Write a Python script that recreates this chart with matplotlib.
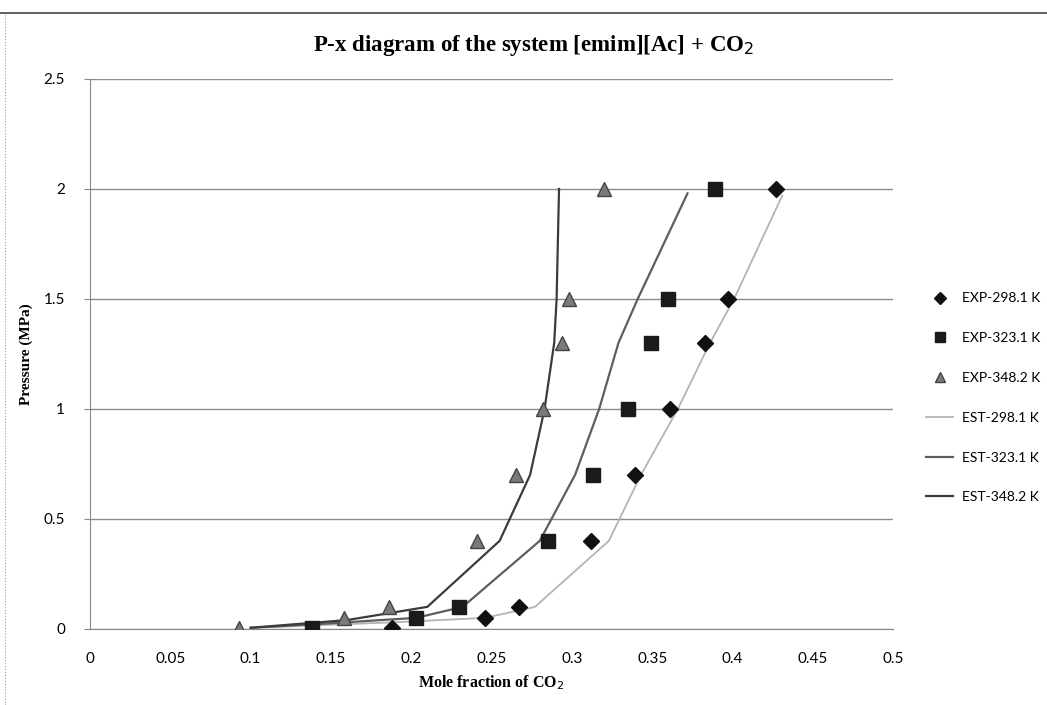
import numpy as np
import matplotlib.pyplot as plt
from matplotlib.lines import Line2D

# Experimental data (mole fraction CO2, pressure MPa)
x_exp_298 = [0.188, 0.246, 0.267, 0.312, 0.339, 0.361, 0.383, 0.397, 0.427]
p_exp_298 = [0.005, 0.05, 0.1, 0.4, 0.7, 1.0, 1.3, 1.5, 2.0]
x_exp_323 = [0.138, 0.203, 0.230, 0.285, 0.313, 0.335, 0.349, 0.360, 0.389]
p_exp_323 = [0.005, 0.05, 0.1, 0.4, 0.7, 1.0, 1.3, 1.5, 2.0]
x_exp_348 = [0.093, 0.158, 0.186, 0.241, 0.265, 0.282, 0.294, 0.298, 0.320]
p_exp_348 = [0.005, 0.05, 0.1, 0.4, 0.7, 1.0, 1.3, 1.5, 2.0]

# Estimated curves
x_est_298 = [0.100, 0.190, 0.246, 0.277, 0.323, 0.343, 0.366, 0.386, 0.401, 0.431]
p_est_298 = [0.005, 0.03, 0.05, 0.1, 0.4, 0.7, 1.0, 1.3, 1.5, 1.97]
x_est_323 = [0.100, 0.138, 0.203, 0.232, 0.280, 0.302, 0.317, 0.329, 0.341, 0.372]
p_est_323 = [0.005, 0.02, 0.05, 0.1, 0.4, 0.7, 1.0, 1.3, 1.5, 1.98]
x_est_348 = [0.100, 0.160, 0.210, 0.255, 0.274, 0.283, 0.289, 0.2905, 0.292]
p_est_348 = [0.005, 0.04, 0.1, 0.4, 0.7, 1.0, 1.3, 1.5, 2.0]

serif = ['Liberation Serif', 'DejaVu Serif']
sans = ['Lato', 'DejaVu Sans']

fig = plt.figure(figsize=(10.47, 7.05), dpi=100)
ax = fig.add_axes([0.086, 0.108, 0.767, 0.780])

ax.plot(x_est_298, p_est_298, color='#b4b4b4', lw=1.3, label='EST-298.1 K', zorder=2)
ax.plot(x_est_323, p_est_323, color='#5e5e5e', lw=1.6, label='EST-323.1 K', zorder=2)
ax.plot(x_est_348, p_est_348, color='#3c3c3c', lw=1.6, label='EST-348.2 K', zorder=2)

ax.plot(x_exp_298, p_exp_298, 'D', color='#111111', ms=8, ls='none', label='EXP-298.1 K', zorder=3)
ax.plot(x_exp_323, p_exp_323, 's', color='#1a1a1a', ms=10, ls='none', label='EXP-323.1 K', zorder=3)
ax.plot(x_exp_348, p_exp_348, '^', color='#7a7a7a', mec='#444444', ms=10, ls='none', label='EXP-348.2 K', zorder=3)

ax.set_xlim(0, 0.5)
ax.set_ylim(0, 2.5)
ax.set_xticks(np.arange(0, 0.51, 0.05))
ax.set_xticklabels(['0', '0.05', '0.1', '0.15', '0.2', '0.25', '0.3', '0.35', '0.4', '0.45', '0.5'])
ax.set_yticks(np.arange(0, 2.51, 0.5))
ax.set_yticklabels(['0', '0.5', '1', '1.5', '2', '2.5'])
for lab in ax.get_xticklabels() + ax.get_yticklabels():
    lab.set_family(sans)
    lab.set_fontsize(11)
ax.tick_params(axis='x', length=0, pad=17)
ax.tick_params(axis='y', length=4, color='#888888', pad=14)

ax.grid(axis='y', color='#8c8c8c', lw=1.0)
ax.set_axisbelow(True)
for s in ['top', 'right']:
    ax.spines[s].set_visible(False)
ax.spines['left'].set_color('#888888')
ax.spines['bottom'].set_color('#888888')

ax.set_title('P-x diagram of the system [emim][Ac] + CO$_2$', family=serif,
             fontweight='bold', fontsize=16.5, pad=20, x=0.552)
ax.set_xlabel('Mole fraction of CO$_2$', family=serif, fontweight='bold', fontsize=11.5, labelpad=5)
ax.set_ylabel('Pressure (MPa)', family=serif, fontweight='bold', fontsize=11, labelpad=8)

handles, labels = ax.get_legend_handles_labels()
order = [3, 4, 5, 0, 1, 2]
leg = ax.legend([handles[i] for i in order], [labels[i] for i in order],
                loc='center left', bbox_to_anchor=(1.025, 0.42), frameon=False,
                prop={'family': sans, 'size': 10}, labelspacing=2.0,
                handlelength=2.0, markerscale=0.75, handletextpad=0.6)

# chart area border (top and left)
fig.add_artist(Line2D([0.0, 1.0], [0.981, 0.981], color='#444444', lw=1.2))
fig.add_artist(Line2D([0.005, 0.005], [0.0, 0.981], color='#999999', lw=0.8, ls=':'))

fig.savefig('out.png', dpi=100)
